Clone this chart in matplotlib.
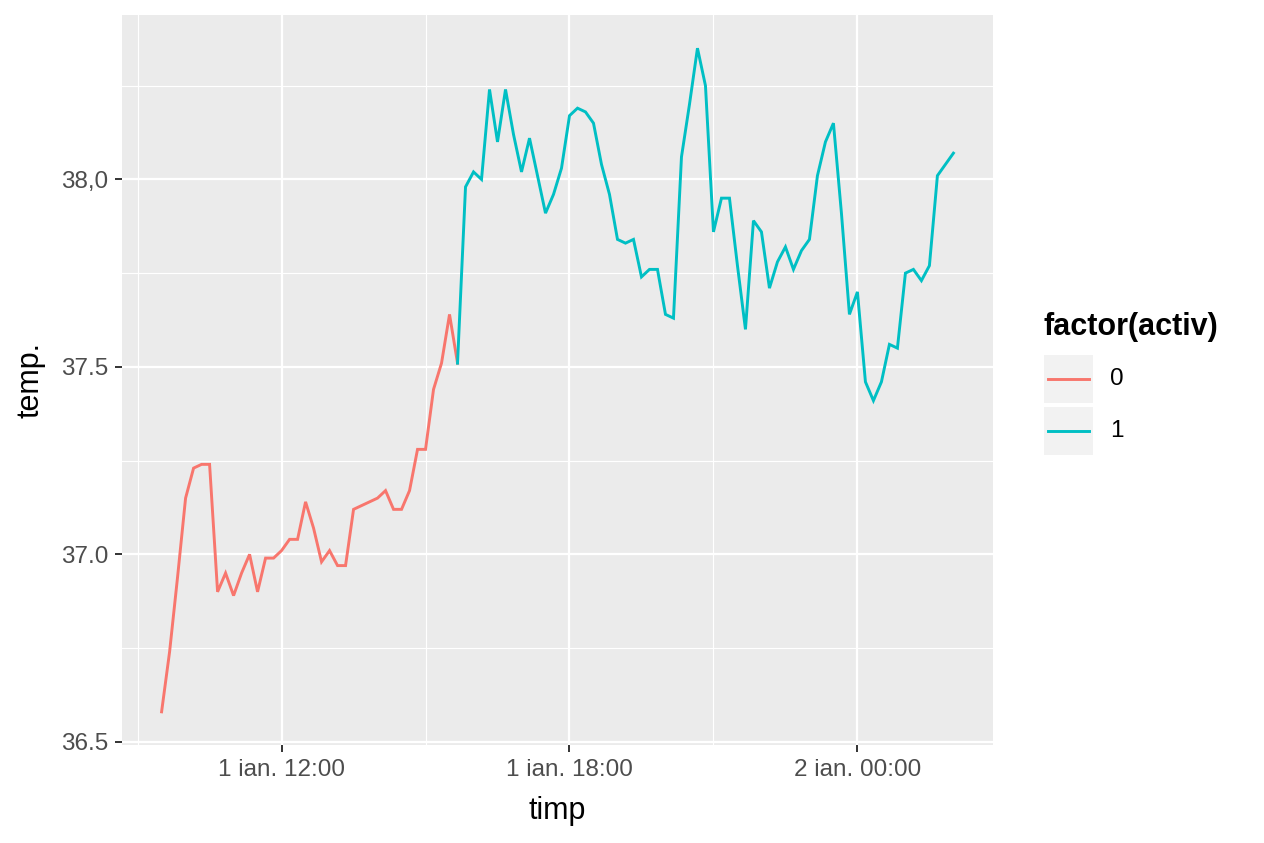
import matplotlib
matplotlib.use("Agg")
import matplotlib.pyplot as plt
import matplotlib.dates as mdates
from matplotlib.patches import Rectangle
from matplotlib.lines import Line2D
import pandas as pd

# ---------------- data ----------------
times = pd.date_range("2019-01-01 09:30", periods=100, freq="10min")

temp_activ0 = [36.58, 36.74, 36.94, 37.15, 37.23, 37.24, 37.24, 36.90, 36.95, 36.89,
               36.95, 37.00, 36.90, 36.99, 36.99, 37.01, 37.04, 37.04, 37.14, 37.07,
               36.98, 37.01, 36.97, 36.97, 37.12, 37.13, 37.14, 37.15, 37.17, 37.12,
               37.12, 37.17, 37.28, 37.28, 37.44, 37.51, 37.64, 37.51]
temp_activ1 = [37.51, 37.98, 38.02, 38.00, 38.24, 38.10, 38.24, 38.12, 38.02, 38.11,
               38.01, 37.91, 37.96, 38.03, 38.17, 38.19, 38.18, 38.15, 38.04, 37.96,
               37.84, 37.83, 37.84, 37.74, 37.76, 37.76, 37.64, 37.63, 38.06, 38.20,
               38.35, 38.25, 37.86, 37.95, 37.95, 37.77, 37.60, 37.89, 37.86, 37.71,
               37.78, 37.82, 37.76, 37.81, 37.84, 38.01, 38.10, 38.15, 37.91, 37.64,
               37.70, 37.46, 37.41, 37.46, 37.56, 37.55, 37.75, 37.76, 37.73, 37.77,
               38.01, 38.04, 38.07]
times_activ0 = times[:len(temp_activ0)]
times_activ1 = times[len(temp_activ0) - 1:]

levels = ["0", "1"]
colors = ["#F8766D", "#00BFC4"]

y_ticks = [36.5, 37.0, 37.5, 38.0]
y_ticklabels = ["36.5", "37.0", "37.5", "38,0"]
y_minor = [36.75, 37.25, 37.75, 38.25]
x_ticks = pd.to_datetime(["2019-01-01 12:00", "2019-01-01 18:00", "2019-01-02 00:00"])
x_ticklabels = ["1 ian. 12:00", "1 ian. 18:00", "2 ian. 00:00"]
x_minor = pd.to_datetime(["2019-01-01 09:00", "2019-01-01 15:00", "2019-01-01 21:00"])

# ---------------- figure ----------------
plt.rcParams['font.family'] = ['Liberation Sans', 'DejaVu Sans']
W, H = 1264, 843
fig = plt.figure(figsize=(W / 100, H / 100), dpi=100)
fig.patch.set_facecolor("white")

L, R, T, B = 122, 993, 15, 745
ax = fig.add_axes([L / W, 1 - B / H, (R - L) / W, (B - T) / H])
ax.set_facecolor("#EBEBEB")
for s in ax.spines.values():
    s.set_visible(False)

ax.plot(times_activ0, temp_activ0, color=colors[0], lw=2.1, solid_joinstyle="miter", zorder=3)
ax.plot(times_activ1, temp_activ1, color=colors[1], lw=2.1, solid_joinstyle="miter", zorder=3)
ax.margins(x=0.05, y=0.05)

ax.set_yticks(y_ticks)
ax.set_yticklabels(y_ticklabels)
ax.set_yticks(y_minor, minor=True)
ax.set_xticks(mdates.date2num(x_ticks))
ax.set_xticklabels(x_ticklabels)
ax.set_xticks(mdates.date2num(x_minor), minor=True)

ax.grid(which="major", color="white", lw=1.6, zorder=0)
ax.grid(which="minor", color="white", lw=0.8, zorder=0)
ax.set_axisbelow(True)

ax.tick_params(which="major", length=5, width=1.4, color="#333333",
               labelsize=17.5, labelcolor="#4D4D4D", pad=5)
ax.tick_params(which="minor", length=0)

ax.set_xlabel("timp", fontsize=22, color="black", labelpad=11)
ax.set_ylabel("temp.", fontsize=22, color="black", labelpad=11)

# ---------------- legend ----------------
def fx(px):
    return px / W

def fy(py):
    return 1 - py / H

fig.text(fx(1043), fy(327), "factor(activ)", fontsize=22, fontweight="bold",
         ha="left", va="center", color="black")
key_tops = [355, 407]
for i, (lab, col) in enumerate(zip(levels, colors)):
    top = key_tops[i]
    fig.patches.append(Rectangle((fx(1044), fy(top + 48)), fx(49), 48 / H,
                                 transform=fig.transFigure, facecolor="#F2F2F2",
                                 edgecolor="none"))
    yc = top + 24
    fig.lines.append(Line2D([fx(1048), fx(1089)], [fy(yc), fy(yc)],
                            transform=fig.transFigure, color=col, lw=2.1))
    fig.text(fx(1110), fy(yc), lab, fontsize=17.5, ha="left", va="center", color="black")

fig.savefig("out.png", dpi=100, facecolor="white")
